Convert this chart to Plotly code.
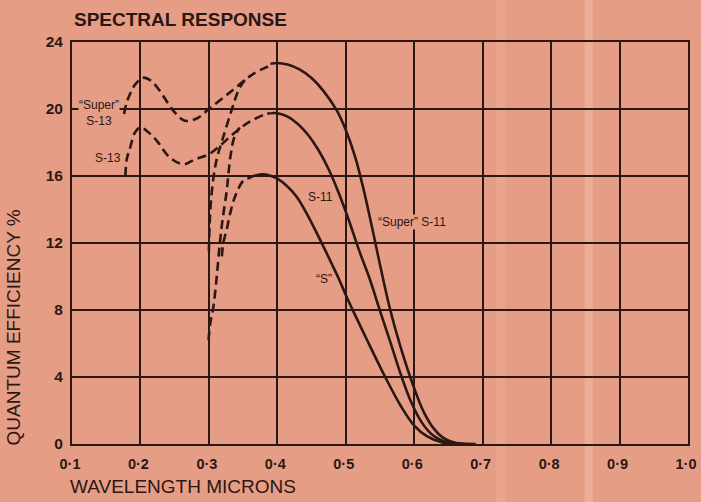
import plotly.graph_objects as go

# ---------------- data ----------------
x_ticks = [0.1, 0.2, 0.3, 0.4, 0.5, 0.6, 0.7, 0.8, 0.9, 1.0]
x_tick_labels = ["0·1", "0·2", "0·3", "0·4", "0·5", "0·6", "0·7", "0·8", "0·9", "1·0"]
y_ticks = [0, 4, 8, 12, 16, 20, 24]
y_tick_labels = ["0", "4", "8", "12", "16", "20", "24"]

# "Super" S-13 (dashed, UV part)
super_s13_x = [0.176, 0.180, 0.186, 0.193, 0.204, 0.215, 0.228, 0.248, 0.265, 0.283, 0.300, 0.331, 0.365, 0.390]
super_s13_y = [19.7, 20.4, 21.0, 21.5, 21.87, 21.7, 21.1, 19.9, 19.3, 19.45, 20.0, 21.0, 22.1, 22.6]
# "Super" S-11 (solid)
super_s11_x = [0.390, 0.400, 0.415, 0.433, 0.450, 0.467, 0.487, 0.500, 0.514, 0.526, 0.538, 0.550, 0.565, 0.580, 0.598, 0.614, 0.628, 0.642, 0.657, 0.672, 0.690]
super_s11_y = [22.7, 22.75, 22.65, 22.35, 21.85, 21.1, 19.9, 18.75, 17.1, 15.2, 13.0, 10.7, 8.0, 5.8, 3.55, 1.9, 0.95, 0.38, 0.1, 0.02, 0.0]
# "Super" S-11 glass cut-off (dashed)
super_s11_cut_x = [0.300, 0.301, 0.303, 0.307, 0.312, 0.320, 0.333, 0.343, 0.352, 0.362]
super_s11_cut_y = [11.5, 13.0, 14.5, 16.0, 17.1, 18.2, 19.9, 21.1, 21.7, 22.0]

# S-13 (dashed)
s13_x = [0.178, 0.180, 0.185, 0.192, 0.200, 0.212, 0.224, 0.243, 0.263, 0.280, 0.300, 0.316, 0.338, 0.358, 0.380, 0.390]
s13_y = [16.0, 17.0, 17.7, 18.6, 18.9, 18.6, 18.1, 17.1, 16.7, 17.0, 17.3, 17.8, 18.6, 19.2, 19.65, 19.75]
# S-11 (solid)
s11_x = [0.390, 0.400, 0.415, 0.430, 0.445, 0.460, 0.475, 0.490, 0.505, 0.520, 0.535, 0.550, 0.565, 0.580, 0.595, 0.610, 0.625, 0.640, 0.655, 0.670]
s11_y = [19.75, 19.75, 19.55, 19.1, 18.45, 17.55, 16.4, 14.95, 13.3, 11.5, 9.85, 7.95, 6.1, 4.2, 2.55, 1.35, 0.6, 0.22, 0.06, 0.0]
# S-11 glass cut-off (dashed)
s11_cut_x = [0.2995, 0.302, 0.3066, 0.3115, 0.316, 0.320, 0.326, 0.329, 0.332, 0.337, 0.345]
s11_cut_y = [6.2, 7.2, 8.2, 10.0, 12.0, 13.4, 15.1, 16.3, 17.3, 18.3, 18.9]

# "S" (solid)
s_x = [0.357, 0.365, 0.377, 0.390, 0.400, 0.414, 0.4285, 0.443, 0.458, 0.477, 0.490, 0.500, 0.509, 0.530, 0.5576, 0.580, 0.600, 0.619, 0.640, 0.660]
s_y = [15.85, 16.0, 16.1, 16.02, 15.84, 15.4, 14.75, 13.75, 12.56, 10.97, 9.85, 8.9, 8.1, 6.3, 4.0, 2.3, 1.1, 0.45, 0.1, 0.0]
# "S" cut-off (dashed)
s_cut_x = [0.319, 0.321, 0.326, 0.331, 0.338, 0.350, 0.357]
s_cut_y = [11.2, 12.0, 12.8, 13.75, 14.75, 15.7, 15.85]

# curve labels
label_texts = ["“Super”<br>S-13", "S-13", "S-11", "“Super” S-11", "“S”"]
label_x = [0.139, 0.153, 0.4626, 0.597, 0.468]
label_y = [19.75, 17.05, 14.73, 13.24, 9.84]

# ---------------- styling ----------------
BG = "#E69D86"
INK = "#2b1713"
FONT = "Liberation Sans, Arial, Helvetica, sans-serif"
DASH = "9px,5px"

fig = go.Figure()

def add_curve(xs, ys, dashed):
    fig.add_trace(go.Scatter(
        x=xs, y=ys, mode="lines",
        line=dict(color=INK, width=2.6, shape="spline", smoothing=1.0,
                  dash=DASH if dashed else "solid"),
        hoverinfo="skip", showlegend=False))

add_curve(super_s13_x, super_s13_y, True)
add_curve(super_s11_x, super_s11_y, False)
add_curve(super_s11_cut_x, super_s11_cut_y, True)
add_curve(s13_x, s13_y, True)
add_curve(s11_x, s11_y, False)
add_curve(s11_cut_x, s11_cut_y, True)
add_curve(s_x, s_y, False)
add_curve(s_cut_x, s_cut_y, True)

for t, lx, ly in zip(label_texts, label_x, label_y):
    fig.add_annotation(x=lx, y=ly, xref="x", yref="y", text=t, showarrow=False,
                       font=dict(family=FONT, size=12, color=INK),
                       bgcolor=BG, borderpad=0)

# title
fig.add_annotation(x=0, y=1, xref="paper", yref="paper", xanchor="left", yanchor="middle",
                   yshift=23, text="<b>SPECTRAL RESPONSE</b>", showarrow=False,
                   font=dict(family=FONT, size=19, color=INK))
# axis titles
fig.add_annotation(x=0, y=0, xref="paper", yref="paper", xanchor="left", yanchor="middle",
                   xshift=-4, yshift=-42, text="WAVELENGTH MICRONS", showarrow=False,
                   font=dict(family=FONT, size=19, color=INK))
fig.add_annotation(x=0, y=0.29, xref="paper", yref="paper", xanchor="center", yanchor="middle",
                   xshift=-59, text="QUANTUM EFFICIENCY %", textangle=-90, showarrow=False,
                   font=dict(family=FONT, size=19, color=INK))

# scan streaks
fig.add_shape(type="rect", xref="x", yref="paper", x0=0.849, x1=0.861, y0=-0.2, y1=1.15,
              fillcolor="rgba(255,228,210,0.25)", line_width=0, layer="below")
fig.add_shape(type="rect", xref="x", yref="paper", x0=0.719, x1=0.733, y0=-0.2, y1=1.15,
              fillcolor="rgba(255,228,210,0.12)", line_width=0, layer="below")

fig.update_xaxes(range=[0.1, 1.0], tickmode="array", tickvals=x_ticks,
                 ticktext=["<b>%s</b>" % t for t in x_tick_labels],
                 tickfont=dict(family=FONT, size=14.5, color=INK),
                 showgrid=True, gridcolor=INK, gridwidth=1.8,
                 showline=True, linecolor=INK, linewidth=2, mirror=True,
                 zeroline=False, ticks="", ticklabelstandoff=6, ticklabelshift=-2,
                 ticklabeloverflow="allow", automargin=False)
fig.update_yaxes(range=[0, 24], tickmode="array", tickvals=y_ticks,
                 ticktext=["<b>%s</b>" % t for t in y_tick_labels],
                 tickfont=dict(family=FONT, size=15.5, color=INK),
                 showgrid=True, gridcolor=INK, gridwidth=1.8,
                 showline=True, linecolor=INK, linewidth=2, mirror=True,
                 zeroline=False, ticks="", ticklabelstandoff=4, automargin=False)

fig.update_layout(width=701, height=502, paper_bgcolor=BG, plot_bgcolor=BG,
                  margin=dict(l=72, r=13, t=42, b=58), showlegend=False,
                  font=dict(family=FONT, color=INK))

fig.write_html("out.html", config={"displayModeBar": False},
               post_script="document.body.style.margin='0';"
                           "document.body.style.background='%s';"
                           "document.documentElement.style.overflow='hidden';" % BG)
